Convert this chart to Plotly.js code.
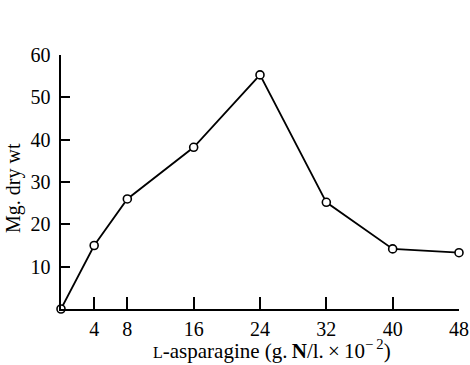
<!DOCTYPE html>
<html>
<head>
<meta charset="utf-8">
<script src="https://cdn.plot.ly/plotly-3.0.1.min.js"></script>
<style>
  html, body { margin: 0; padding: 0; background: #fff; }
  #chart { width: 470px; height: 365px; }
</style>
</head>
<body>
<div id="chart"></div>
<script>
// L-asparagine concentration (g N/l x 10^-2) and dry weight (mg)
const asparagine = [0, 4, 8, 16, 24, 32, 40, 48];
const dryWeight = [0, 15, 26, 38.2, 55.3, 25.2, 14.2, 13.3];
const xTicks = [4, 8, 16, 24, 32, 40, 48];
const yTicks = [10, 20, 30, 40, 50, 60];

const serif = "Liberation Serif";

const trace = {
  x: asparagine,
  y: dryWeight,
  type: "scatter",
  mode: "lines+markers",
  line: { color: "#000", width: 1.8 },
  marker: {
    symbol: "circle",
    size: 8,
    color: "#fff",
    line: { color: "#000", width: 1.6 }
  },
  cliponaxis: false,
  hoverinfo: "skip"
};

const layout = {
  width: 470,
  height: 365,
  margin: { l: 61, r: 11, t: 55, b: 56 },
  paper_bgcolor: "#fff",
  plot_bgcolor: "#fff",
  showlegend: false,
  font: { family: serif, color: "#000", size: 20 },
  xaxis: {
    range: [0, 48],
    tickvals: xTicks,
    ticktext: xTicks.map(String),
    ticks: "inside",
    ticklen: 12,
    tickwidth: 2.2,
    tickcolor: "#000",
    showline: true,
    linecolor: "#000",
    linewidth: 2.4,
    showgrid: false,
    zeroline: false,
    tickfont: { family: serif, size: 20, color: "#000" },
    ticklabelstandoff: 1
  },
  yaxis: {
    range: [0, 60],
    tickvals: yTicks,
    ticktext: yTicks.map(String),
    ticks: "inside",
    ticklen: 9,
    tickwidth: 2.2,
    tickcolor: "#000",
    showline: true,
    linecolor: "#000",
    linewidth: 2.4,
    showgrid: false,
    zeroline: false,
    tickfont: { family: serif, size: 20, color: "#000" },
    ticklabelstandoff: 4
  },
  annotations: [
    {
      text: "<span style='font-size:16px'>L</span>-asparagine (g.\u2009<b>N</b>/l.\u2009×\u200910<sup>\u2212\u20092</sup>)",
      xref: "paper", yref: "paper",
      x: (272 - 61) / 398, y: -(365 - 309) / 254,
      xanchor: "center", yanchor: "bottom",
      showarrow: false,
      font: { family: serif, size: 21, color: "#000" }
    },
    {
      text: "Mg. dry wt",
      xref: "paper", yref: "paper",
      x: (13 - 61) / 398, y: (309 - 188) / 254,
      xanchor: "center", yanchor: "middle",
      textangle: -90,
      showarrow: false,
      font: { family: serif, size: 20, color: "#000" }
    }
  ]
};

Plotly.newPlot("chart", [trace], layout, { staticPlot: true, displayModeBar: false });
</script>
</body>
</html>
